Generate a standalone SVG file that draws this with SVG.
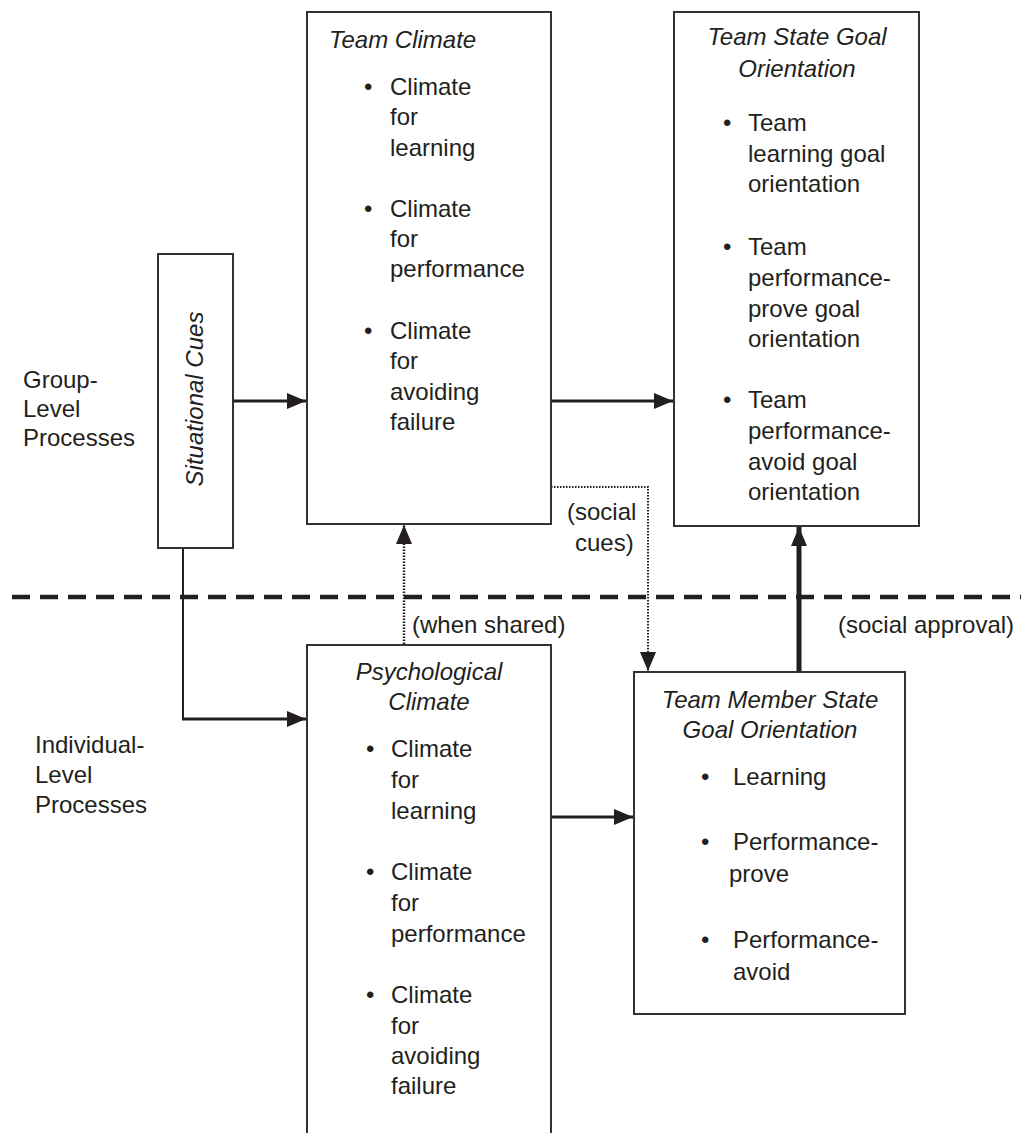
<svg xmlns="http://www.w3.org/2000/svg" width="1021" height="1133" viewBox="0 0 1021 1133">
<style>
text{font-family:"Liberation Sans",Arial,sans-serif;font-size:24px;fill:#231f20}
.it{font-style:italic}
.mid{text-anchor:middle}
.box{fill:#fff;stroke:#333;stroke-width:2}
.solid{fill:none;stroke:#231f20;stroke-width:3}
.dot{fill:none;stroke:#231f20;stroke-width:2.5;stroke-dasharray:1.5 1.5}
.dotthin{fill:none;stroke:#231f20;stroke-width:2;stroke-dasharray:1.5 1.5}
</style>
<defs>
<marker id="ah" markerUnits="userSpaceOnUse" markerWidth="20" markerHeight="18" refX="19" refY="8" orient="auto">
<path d="M0,0 L19,8 L0,16 Z" fill="#231f20"/>
</marker>
</defs>
<rect width="1021" height="1133" fill="#fff"/>
<g id="divider">
<line x1="12" y1="597" x2="1021" y2="597" stroke="#231f20" stroke-width="4.5" stroke-dasharray="18 10"/>
</g>
<g id="connectors">
<line class="solid" x1="233" y1="401" x2="306" y2="401" marker-end="url(#ah)"/>
<line class="solid" x1="551" y1="401" x2="673" y2="401" marker-end="url(#ah)"/>
<polyline fill="none" stroke="#231f20" stroke-width="2" points="183,548 183,719"/>
<line class="solid" x1="182" y1="719" x2="306" y2="719" marker-end="url(#ah)"/>
<line class="dot" x1="404" y1="644" x2="404" y2="525" marker-end="url(#ah)"/>
<polyline class="dotthin" points="551,487 648,487 648,671" marker-end="url(#ah)"/>
<line class="solid" x1="551" y1="817" x2="633" y2="817" marker-end="url(#ah)"/>
<line fill="none" stroke="#231f20" stroke-width="5" x1="799" y1="672" x2="799" y2="527" marker-end="url(#ah)"/>
<text x="567" y="520">(social</text>
<text x="575" y="551">cues)</text>
<text x="412" y="633">(when shared)</text>
<text x="838" y="633">(social approval)</text>
</g>
<g id="labels">
<text x="23" y="388">Group-</text>
<text x="23" y="417">Level</text>
<text x="23" y="446">Processes</text>
<text x="35" y="753">Individual-</text>
<text x="35" y="783">Level</text>
<text x="35" y="813">Processes</text>
</g>
<g id="situational-cues">
<rect class="box" x="158" y="254" width="75" height="294"/>
<text class="it mid" transform="translate(203,399) rotate(-90)">Situational Cues</text>
</g>
<g id="team-climate">
<rect class="box" x="307" y="12" width="244" height="512"/>
<text class="it" x="329" y="48">Team Climate</text>
<text x="364" y="95">•</text><text x="390" y="95">Climate</text>
<text x="390" y="125">for</text>
<text x="390" y="156">learning</text>
<text x="364" y="217">•</text><text x="390" y="217">Climate</text>
<text x="390" y="247">for</text>
<text x="390" y="277">performance</text>
<text x="364" y="339">•</text><text x="390" y="339">Climate</text>
<text x="390" y="369">for</text>
<text x="390" y="400">avoiding</text>
<text x="390" y="430">failure</text>
</g>
<g id="team-state-goal-orientation">
<rect class="box" x="674" y="12" width="245" height="514"/>
<text class="it mid" x="797" y="45">Team State Goal</text>
<text class="it mid" x="797" y="77">Orientation</text>
<text x="723" y="131">•</text><text x="748" y="131">Team</text>
<text x="748" y="162">learning goal</text>
<text x="748" y="192">orientation</text>
<text x="723" y="255">•</text><text x="748" y="255">Team</text>
<text x="748" y="286">performance-</text>
<text x="748" y="317">prove goal</text>
<text x="748" y="347">orientation</text>
<text x="723" y="408">•</text><text x="748" y="408">Team</text>
<text x="748" y="439">performance-</text>
<text x="748" y="470">avoid goal</text>
<text x="748" y="500">orientation</text>
</g>
<g id="psychological-climate">
<rect class="box" x="307" y="645" width="244" height="600"/>
<text class="it mid" x="429" y="680">Psychological</text>
<text class="it mid" x="429" y="710">Climate</text>
<text x="366" y="757">•</text><text x="391" y="757">Climate</text>
<text x="391" y="788">for</text>
<text x="391" y="819">learning</text>
<text x="366" y="880">•</text><text x="391" y="880">Climate</text>
<text x="391" y="911">for</text>
<text x="391" y="942">performance</text>
<text x="366" y="1003">•</text><text x="391" y="1003">Climate</text>
<text x="391" y="1034">for</text>
<text x="391" y="1064">avoiding</text>
<text x="391" y="1094">failure</text>
</g>
<g id="team-member-state-goal-orientation">
<rect class="box" x="634" y="672" width="271" height="342"/>
<text class="it mid" x="770" y="708">Team Member State</text>
<text class="it mid" x="770" y="738">Goal Orientation</text>
<text x="701" y="785">•</text><text x="733" y="785">Learning</text>
<text x="701" y="850">•</text><text x="733" y="850">Performance-</text>
<text x="729" y="882">prove</text>
<text x="701" y="948">•</text><text x="733" y="948">Performance-</text>
<text x="733" y="980">avoid</text>
</g>
</svg>
